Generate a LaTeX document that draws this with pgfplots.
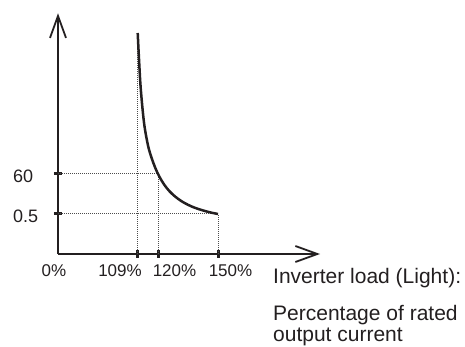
\documentclass[border=0pt]{standalone}
\usepackage{pgfplots}
\pgfplotsset{compat=1.18}
\usepackage{fontspec}
\setmainfont{Liberation Sans}
\usetikzlibrary{arrows.meta}
\definecolor{ink}{HTML}{231F20}
\begin{document}
\begin{tikzpicture}
\path[use as bounding box] (-58pt,-93pt) rectangle (407pt,254pt);
\begin{axis}[
  scale only axis, width=262pt, height=240.7pt,
  xmin=0, xmax=262, ymin=0, ymax=240.7,
  axis lines=left,
  axis line style={line width=2.3pt, ink, -{Straight Barb[length=22pt,width=16pt,line width=1.8pt]}},
  xtick={79.7,100,160}, ytick={40,80},
  xticklabels={}, yticklabels={},
  tick align=center, major tick length=8pt,
  tick style={line width=3pt, ink},
  clip=false,
]
% guide lines
\addplot[densely dotted, line width=1pt, gray!60!black] coordinates {(0,80) (100,80)};
\addplot[densely dotted, line width=1pt, gray!60!black] coordinates {(100,0) (100,80)};
\addplot[densely dotted, line width=1pt, gray!60!black] coordinates {(0,40) (160,40)};
\addplot[densely dotted, line width=1pt, gray!60!black] coordinates {(160,0) (160,40)};
\addplot[densely dotted, line width=1pt, gray!60!black] coordinates {(79.7,0) (79.7,220.7)};
% curve
\addplot[smooth, tension=0.6, line width=2.5pt, ink] coordinates {
(79.7,221) (81,195) (82.7,166) (85.7,134) (88.5,116) (92,101)
(99.3,81.5) (108.7,66) (120.3,55) (133.7,47.5) (148.7,42.5) (160,40)};
% labels
\begin{scope}[every node/.style={inner sep=0pt, font=\fontsize{17}{20}\selectfont, text=ink}]
\node[anchor=base] at (axis cs:-4,-23) {0\%};
\node[anchor=base] at (axis cs:62,-23) {109\%};
\node[anchor=base] at (axis cs:116.5,-23) {120\%};
\node[anchor=base] at (axis cs:172.5,-23) {150\%};
\end{scope}
\begin{scope}[every node/.style={inner sep=0pt, font=\fontsize{18}{21}\selectfont, text=ink}]
\node[anchor=base west] at (axis cs:-45,71) {60};
\node[anchor=base west] at (axis cs:-45,31) {0.5};
\end{scope}
\begin{scope}[every node/.style={inner sep=0pt, font=\fontsize{21}{24}\selectfont, text=ink}]
\node[anchor=base west] at (axis cs:215,-30) {Inverter load (Light):};
\node[anchor=base west] at (axis cs:215,-66.7) {Percentage of rated};
\node[anchor=base west] at (axis cs:215,-88) {output current};
\end{scope}
\end{axis}
\end{tikzpicture}
\end{document}
